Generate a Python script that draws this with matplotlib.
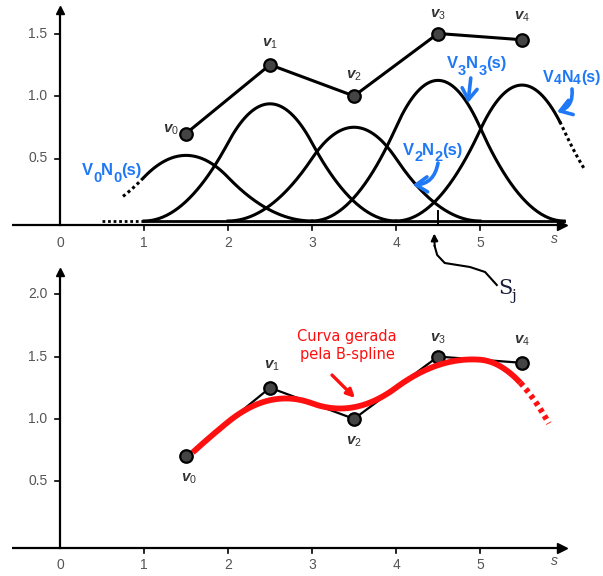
import numpy as np
import matplotlib.pyplot as plt

plt.rcParams['mathtext.fontset'] = 'custom'
plt.rcParams['mathtext.rm'] = 'Liberation Sans'
plt.rcParams['mathtext.it'] = 'Liberation Sans:italic'
plt.rcParams['mathtext.bf'] = 'Liberation Sans:bold'
plt.rcParams['mathtext.bfit'] = 'Liberation Sans:bold:italic'

# control points (knots at unit spacing)
cx = [1.5, 2.5, 3.5, 4.5, 5.5]
cy = [0.70, 1.25, 1.00, 1.50, 1.45]
vnames = ['0', '1', '2', '3', '4']
xticks = [0, 1, 2, 3, 4, 5]
yticks_top = [0.5, 1.0, 1.5]
yticks_bot = [0.5, 1.0, 1.5, 2.0]

blue = '#1f78f5'
red = '#ff1010'
gray = '#555555'


def bq(t):
    # quadratic uniform B-spline basis centred at 0
    t = np.abs(t)
    return np.where(t < 0.5, 0.75 - t ** 2, np.where(t < 1.5, 0.5 * (1.5 - t) ** 2, 0.0))


def spline(s):
    return sum(c * bq(s - x) for x, c in zip(cx, cy))


fig = plt.figure(figsize=(6.03, 5.76), dpi=100)
ax1 = fig.add_axes([0, 0, 1, 1])
ax1.set_xlim(-0.714, 6.464)
ax1.set_ylim(-2.84, 1.768)
ax2 = fig.add_axes([0, 0, 1, 1])
ax2.set_xlim(-0.714, 6.464)
ax2.set_ylim(-0.261, 4.362)
for ax in (ax1, ax2):
    ax.axis('off')
    ax.patch.set_alpha(0)
renderer = fig.canvas.get_renderer()


def draw_axes(ax, y0, ytop, yticks, lab_y):
    ax.plot([-0.57, 5.98], [y0, y0], color='k', lw=1.6, solid_capstyle='butt')
    ax.plot(5.98, y0, marker='>', ms=7, color='k')
    ax.plot([0, 0], [y0, ytop - 0.04], color='k', lw=1.6)
    ax.plot(0, ytop - 0.04, marker='^', ms=6, color='k')
    for x in xticks:
        if x > 0:
            ax.plot([x, x], [y0, y0 - 0.04], color='k', lw=1.2)
        ax.text(x, lab_y, str(x), ha='center', va='center', color=gray,
                fontsize=10, family='Liberation Sans')
    for y in yticks:
        ax.plot([-0.06, 0], [y, y], color='k', lw=1.2)
        ax.text(-0.15, y, '%.1f' % y, ha='right', va='center', color=gray,
                fontsize=10, family='Liberation Sans')
    ax.text(5.89, lab_y + 0.03, 's', ha='center', va='center', color=gray,
            fontsize=10, style='italic', family='Liberation Sans')


def vlabels(ax, offs):
    for x, y, n, (dx, dy) in zip(cx, cy, vnames, offs):
        ax.annotate(r'$\mathbfit{v}_{\mathit{%s}}$' % n, (x, y), xytext=(dx, dy),
                    textcoords='offset pixels', ha='center', va='center',
                    fontsize=11, color='#333333')


def blabel(ax, x, y, i, sub_dy, fs=12, sub_fs=10.5):
    # "V_i N_i (s)" laid out piece by piece so subscripts sit low and large
    pieces = [('V', 0, fs), (i, sub_dy, sub_fs), ('N', 0, fs), (i, sub_dy, sub_fs), ('(s)', 0, fs)]
    off = 0
    for s, dy, f in pieces:
        t = ax.annotate(s, (x, y), xytext=(off, dy), textcoords='offset pixels',
                        ha='left', va='baseline', fontsize=f, fontweight='bold',
                        color=blue, family='Liberation Sans')
        off += t.get_window_extent(renderer).width


# ---------------- top panel: weighted basis functions ----------------
draw_axes(ax1, -0.035, 1.728, yticks_top, -0.176)

solid_rng = [(1.0, 3.0), (1.0, 4.0), (2.0, 5.0), (3.0, 6.0), (4.0, 5.95)]
dot_rng = [(0.75, 1.0), None, None, None, (5.95, 6.25)]
for x, c, sr, dr in zip(cx, cy, solid_rng, dot_rng):
    s = np.linspace(sr[0], sr[1], 200)
    ax1.plot(s, c * bq(s - x), color='k', lw=2.2)
    if dr is not None:
        s = np.linspace(dr[0], dr[1], 30)
        ax1.plot(s, c * bq(s - x), color='k', lw=2.2, ls=(0, (1, 1)))
ax1.plot([1.0, 6.0], [0, 0], color='k', lw=2.0)
ax1.plot([0.5, 1.0], [0, 0], color='k', lw=2.0, ls=(0, (1, 1)))
ax1.plot([4.5, 4.5], [-0.035, 0.08], color='k', lw=1.4)

ax1.plot(cx, cy, color='k', lw=2.2, marker='o', ms=9, mfc='#444444', mec='k', mew=1.6)
vlabels(ax1, [(-15, 4), (0, 21), (0, 21), (0, 19), (0, 23)])

blabel(ax1, 0.262, 0.368, '0', -7)
blabel(ax1, 4.083, 0.528, '2', -6)
blabel(ax1, 4.607, 1.224, '3', -7)
blabel(ax1, 5.750, 1.112, '4', -2, fs=11.5, sub_fs=10)

aprops = dict(arrowstyle='->,head_length=0.45,head_width=0.3', color=blue, lw=2.6,
              mutation_scale=18, shrinkA=0, shrinkB=0)
ax1.annotate('', xy=(4.20, 0.288), xytext=(4.50, 0.464),
             arrowprops=dict(aprops, connectionstyle='arc3,rad=-0.4'))
ax1.annotate('', xy=(4.857, 0.944), xytext=(4.89, 1.144), arrowprops=aprops)
ax1.annotate('', xy=(5.917, 0.872), xytext=(6.095, 1.056),
             arrowprops=dict(aprops, connectionstyle='arc3,rad=-0.4'))

# s_j pointer
px = [5.20, 5.06, 4.88, 4.58, 4.49, 4.46]
py = [-0.512, -0.408, -0.368, -0.336, -0.272, -0.20]
ax1.plot(px, py, color='k', lw=1.5)
ax1.annotate('', xy=(4.455, -0.10), xytext=(4.46, -0.20),
             arrowprops=dict(arrowstyle='-|>', color='k', lw=1.5, mutation_scale=10,
                             shrinkA=0, shrinkB=0))
ax1.text(5.30, -0.54, 'S', fontsize=15, family='DejaVu Serif', color='#1a1a3a',
         ha='center', va='center')
ax1.text(5.40, -0.60, 'j', fontsize=11, family='DejaVu Serif', color='#1a1a3a',
         ha='center', va='center')

# ---------------- bottom panel: resulting B-spline curve ----------------
draw_axes(ax2, -0.036, 2.219, yticks_bot, -0.17)

ax2.plot(cx, cy, color='k', lw=1.6, marker='o', ms=9, mfc='#444444', mec='k', mew=1.6, zorder=2)
s = np.linspace(1.58, 5.48, 300)
ax2.plot(s, spline(s), color=red, lw=4.2, solid_capstyle='butt', zorder=3)
s = np.linspace(5.48, 5.82, 50)
ax2.plot(s, spline(s), color=red, lw=4.2, ls=(0, (0.7, 0.7)), zorder=3)
vlabels(ax2, [(3, -22), (2, 22), (0, -23), (0, 18), (0, 22)])

ax2.text(3.417, 1.593, 'Curva gerada\npela B-spline', color=red, fontsize=10.5,
         ha='center', va='center', family='DejaVu Sans', linespacing=1.25)
ax2.annotate('', xy=(3.512, 1.168), xytext=(3.238, 1.352),
             arrowprops=dict(arrowstyle='-|>', color=red, lw=2.4, mutation_scale=12,
                             shrinkA=0, shrinkB=0))

fig.savefig('out.png', dpi=100)
